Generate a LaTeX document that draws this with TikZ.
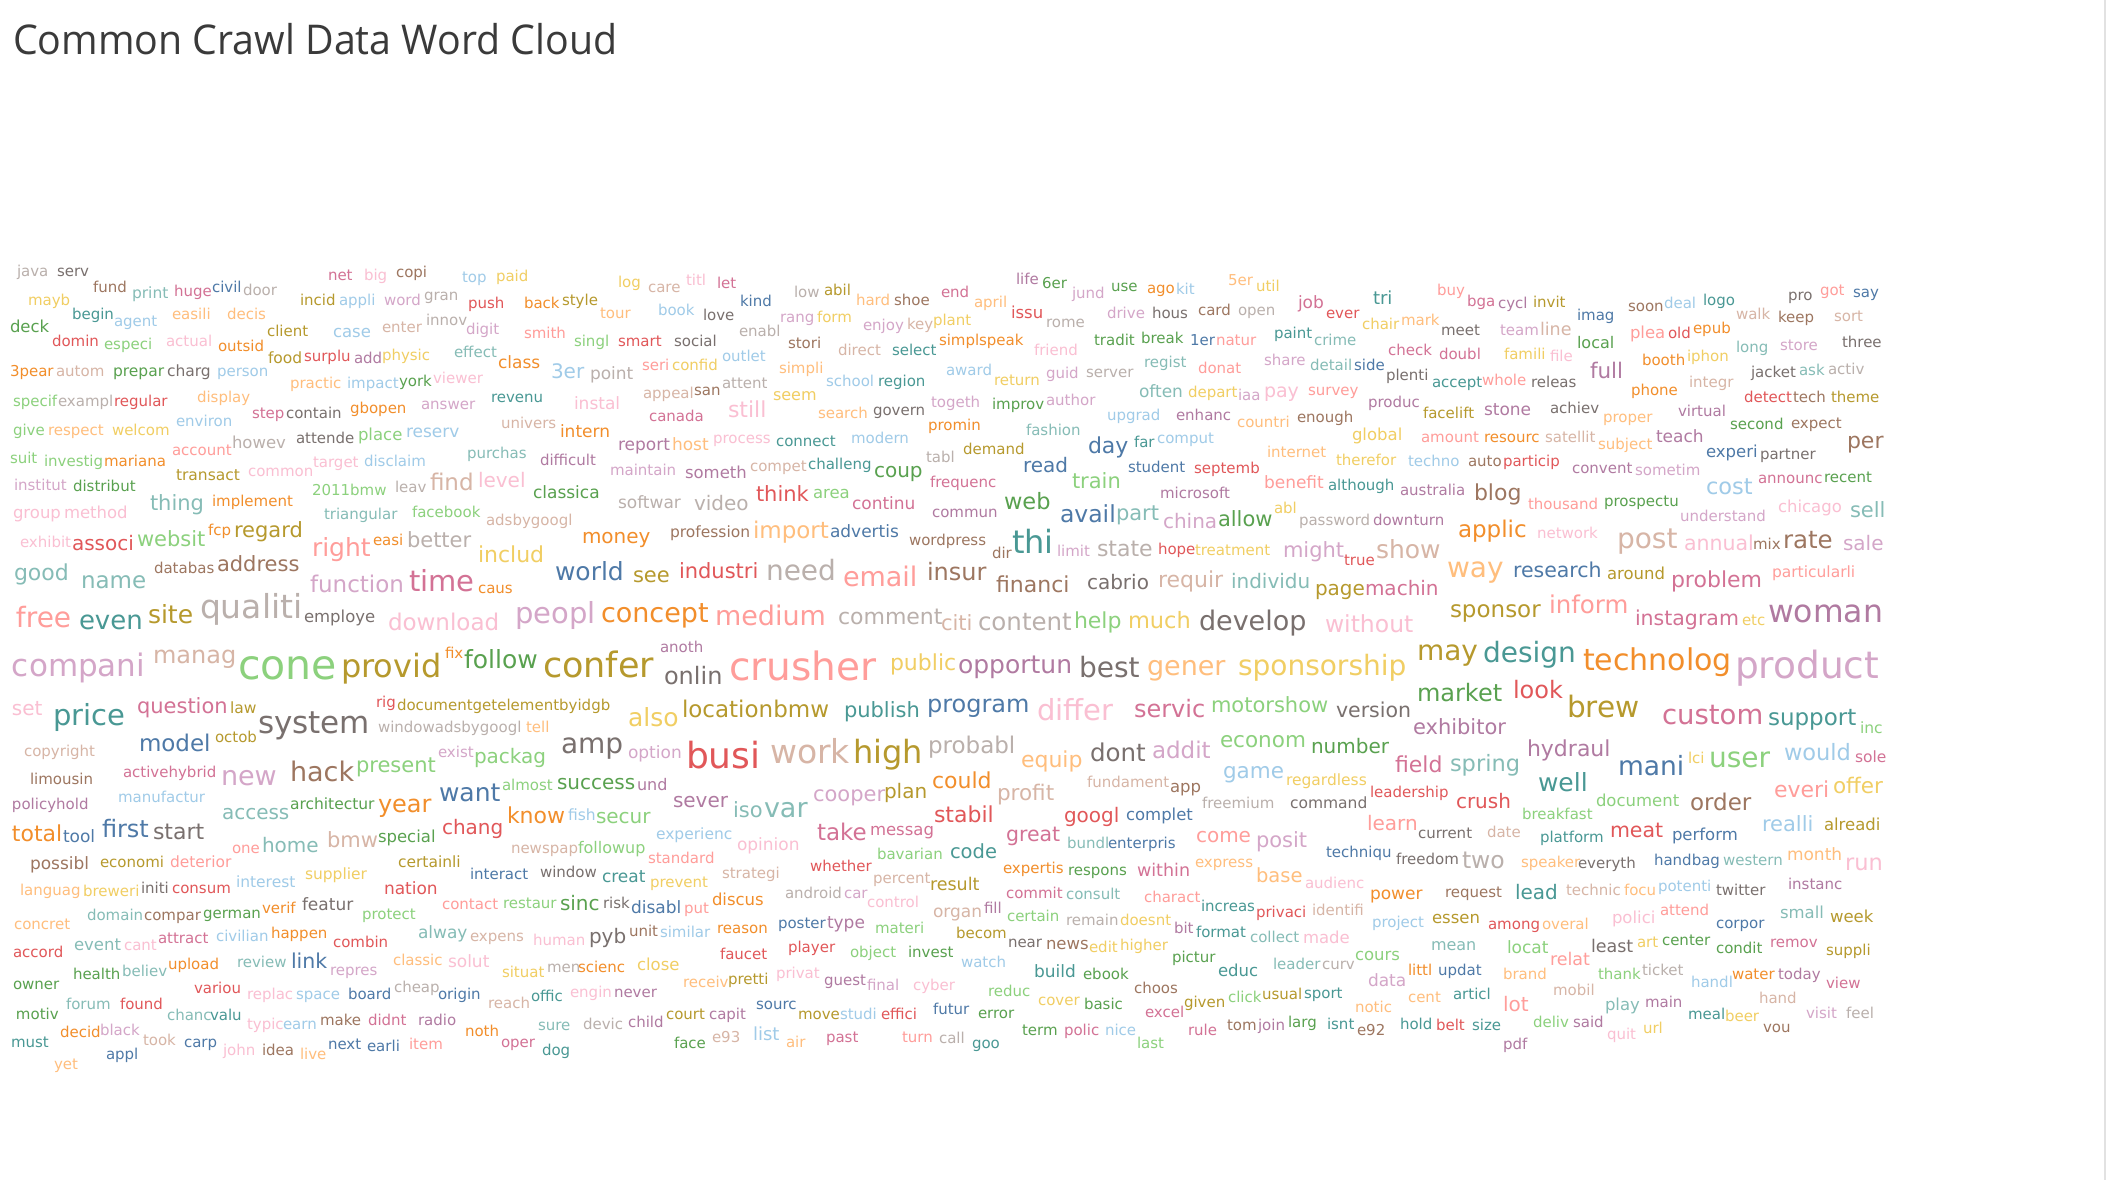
\documentclass[tikz,border=0pt]{standalone}
\usepackage{fontspec}
\usepackage{graphicx}
\setmainfont{DejaVu Sans}
\newfontfamily\titlefont{Open Sans}
\definecolor{cB}{HTML}{4E79A7}\definecolor{cBl}{HTML}{A0CBE8}
\definecolor{cO}{HTML}{F28E2B}\definecolor{cOl}{HTML}{FFBE7D}
\definecolor{cG}{HTML}{59A14F}\definecolor{cGl}{HTML}{8CD17D}
\definecolor{cY}{HTML}{B6992D}\definecolor{cYl}{HTML}{F1CE63}
\definecolor{cT}{HTML}{499894}\definecolor{cTl}{HTML}{86BCB6}
\definecolor{cR}{HTML}{E15759}\definecolor{cRl}{HTML}{FF9D9A}
\definecolor{cK}{HTML}{79706E}\definecolor{cKl}{HTML}{BAB0AC}
\definecolor{cP}{HTML}{D37295}\definecolor{cPl}{HTML}{FABFD2}
\definecolor{cV}{HTML}{B07AA1}\definecolor{cVl}{HTML}{D4A6C8}
\definecolor{cN}{HTML}{9D7660}\definecolor{cNl}{HTML}{D7B5A6}
\definecolor{titlegray}{HTML}{3A3A3A}
\definecolor{edgegray}{HTML}{E2E2E2}
\newcounter{wcn}
\newcommand{\wcw}[5]{\stepcounter{wcn}\node[wc,text=c#4,font=\fontsize{#3}{#3}\selectfont] (w\arabic{wcn}) at (#1,#2) {#5};}
\tikzset{wc/.style={anchor=base west,inner sep=0pt,outer sep=0pt}}
\begin{document}
\begin{tikzpicture}[x=1pt,y=-1pt]
\useasboundingbox[fill=white] (0,0) rectangle (2118,1180);
\draw[edgegray,line width=2pt] (2105,0) coordinate (e1) -- (2105,1180) coordinate (e2);
\node[anchor=base west,inner sep=0pt,text=titlegray] (title) at (13,55) {\resizebox{604pt}{\height}{\titlefont\fontsize{41}{41}\selectfont Common Crawl Data Word Cloud}};
% ---- zoom 1
\wcw{17}{276}{15}{Kl}{java}
\wcw{57}{276}{15}{K}{serv}
\wcw{93}{292}{15}{N}{fund}
\wcw{132}{298}{15.5}{Tl}{print}
\wcw{174}{296}{15}{P}{huge}
\wcw{212}{292}{15}{B}{civil}
\wcw{243}{295}{15}{Kl}{door}
\wcw{328}{280}{15}{P}{net}
\wcw{364}{280}{15}{Pl}{big}
\wcw{396}{277}{15}{N}{copi}
\wcw{462}{282}{15}{Bl}{top}
\wcw{496}{281}{15}{Yl}{paid}
\wcw{28}{305}{15}{Yl}{mayb}
\wcw{72}{319}{15}{T}{begin}
\wcw{114}{326}{15}{Bl}{agent}
\wcw{172}{319}{15}{Ol}{easili}
\wcw{227}{319}{15}{Ol}{decis}
\wcw{300}{305}{15}{Y}{incid}
\wcw{339}{305}{15}{Bl}{appli}
\wcw{384}{305}{15}{Vl}{word}
\wcw{424}{300}{15}{Kl}{gran}
\wcw{468}{308}{15}{R}{push}
\wcw{10}{332}{16.5}{G}{deck}
\wcw{52}{346}{15}{R}{domin}
\wcw{104}{349}{15}{Gl}{especi}
\wcw{166}{346}{15}{Pl}{actual}
\wcw{218}{351}{15}{O}{outsid}
\wcw{267}{336}{15}{Y}{client}
\wcw{333}{337}{16.5}{Bl}{case}
\wcw{382}{332}{15}{Nl}{enter}
\wcw{426}{325}{15}{Kl}{innov}
\wcw{466}{334}{15}{Vl}{digit}
\wcw{10}{376}{15}{O}{3pear}
\wcw{56}{376}{15}{Nl}{autom}
\wcw{113}{376}{15.5}{G}{prepar}
\wcw{167}{376}{15.5}{K}{charg}
\wcw{217}{376}{15}{Bl}{person}
\wcw{268}{363}{15.5}{Y}{food}
\wcw{304}{361}{15}{R}{surplu}
\wcw{354}{363}{15}{V}{add}
\wcw{382}{360}{15}{Yl}{physic}
\wcw{454}{357}{15}{Tl}{effect}
\wcw{290}{388}{15}{Ol}{practic}
\wcw{347}{388}{15}{Bl}{impact}
\wcw{399}{386}{15}{G}{york}
\wcw{433}{383}{15}{Pl}{viewer}
\wcw{13}{406}{15}{Gl}{specif}
\wcw{58}{406}{15}{Kl}{exampl}
\wcw{114}{406}{15}{R}{regular}
\wcw{197}{402}{15}{Ol}{display}
\wcw{252}{418}{15}{P}{step}
\wcw{286}{418}{15}{K}{contain}
\wcw{350}{413}{15}{O}{gbopen}
\wcw{421}{409}{15}{Vl}{answer}
\wcw{176}{426}{15}{Bl}{environ}
\wcw{13}{435}{15}{Gl}{give}
\wcw{48}{435}{15}{Ol}{respect}
\wcw{112}{435}{15}{Yl}{welcom}
\wcw{172}{455}{15}{Rl}{account}
\wcw{232}{448}{16.5}{Kl}{howev}
\wcw{296}{443}{15}{K}{attende}
\wcw{358}{440}{16.5}{Gl}{place}
\wcw{406}{437}{17}{Bl}{reserv}
\wcw{467}{458}{15}{Tl}{purchas}
\wcw{10}{463}{15}{Gl}{suit}
\wcw{44}{466}{15}{Gl}{investig}
\wcw{104}{466}{15}{O}{mariana}
\wcw{176}{480}{15.5}{Y}{transact}
\wcw{248}{476}{15}{Pl}{common}
\wcw{313}{467}{15}{Pl}{target}
\wcw{364}{466}{15}{Bl}{disclaim}
\wcw{14}{490}{15}{Vl}{institut}
\wcw{73}{491}{15}{G}{distribut}
\wcw{312}{495}{15}{Gl}{2011bmw}
\wcw{395}{492}{15}{Kl}{leav}
\wcw{430}{490}{23}{Nl}{find}
\wcw{478}{487}{20}{Pl}{level}
\wcw{150}{510}{21}{Tl}{thing}
\wcw{212}{506}{15}{O}{implement}
\wcw{324}{519}{15}{Tl}{triangular}
\wcw{412}{517}{15}{Gl}{facebook}
\wcw{13}{518}{16.5}{Pl}{group}
\wcw{64}{518}{16.5}{Pl}{method}
\wcw{234}{537}{21}{Y}{regard}
\wcw{208}{535}{15}{O}{fcp}
\wcw{137}{546}{21}{Gl}{websit}
\wcw{20}{547}{15}{Pl}{exhibit}
\wcw{72}{550}{20}{R}{associ}
\wcw{373}{545}{15}{O}{easi}
\wcw{407}{547}{21}{Kl}{better}
\wcw{312}{556}{25}{Rl}{right}
% ---- zoom 5
\wcw{14}{580}{22}{Tl}{good}
\wcw{81}{588}{23}{Tl}{name}
\wcw{154}{573}{15}{N}{databas}
\wcw{217}{571}{21}{N}{address}
\wcw{310}{592}{23}{Vl}{function}
\wcw{409}{591}{29}{P}{time}
\wcw{478}{593}{15}{O}{caus}
\wcw{16}{627}{28}{Rl}{free}
\wcw{79}{629}{26}{T}{even}
\wcw{148}{623}{25}{Y}{site}
\wcw{200}{618}{33}{Kl}{qualiti}
\wcw{304}{622}{16.5}{K}{employe}
\wcw{388}{630}{23}{Pl}{download}
\wcw{12}{676}{31}{Vl}{compani}
\wcw{153}{663}{24}{Nl}{manag}
\wcw{238}{679}{41}{Gl}{cone}
\wcw{341}{677}{32}{Y}{provid}
\wcw{445}{658}{15}{O}{fix}
\wcw{464}{668}{25}{G}{follow}
\wcw{12}{715}{20}{Pl}{set}
\wcw{53}{725}{29}{T}{price}
\wcw{137}{713}{21}{P}{question}
\wcw{230}{713}{15.5}{Y}{law}
\wcw{258}{733}{31}{K}{system}
\wcw{376}{707}{15}{R}{rig}
\wcw{397}{710}{15}{Y}{documentgetelementbyidgb}
\wcw{378}{732}{15}{Kl}{windowadsbygoogl}
\wcw{526}{732}{15}{Ol}{tell}
\wcw{24}{756}{15}{Nl}{copyright}
\wcw{139}{751}{23}{B}{model}
\wcw{215}{742}{15}{Y}{octob}
\wcw{30}{784}{15}{N}{limousin}
\wcw{123}{777}{15}{P}{activehybrid}
\wcw{221}{785}{27}{Vl}{new}
\wcw{290}{781}{27}{N}{hack}
\wcw{356}{772}{21}{Gl}{present}
\wcw{438}{757}{15}{Vl}{exist}
\wcw{474}{763}{20}{Gl}{packag}
\wcw{12}{809}{15}{V}{policyhold}
\wcw{118}{802}{15}{Bl}{manufactur}
\wcw{290}{809}{15.5}{G}{architectur}
\wcw{378}{812}{24}{O}{year}
\wcw{222}{819}{20}{Tl}{access}
\wcw{439}{801}{25}{B}{want}
% ---- zoom 9
\wcw{12}{841}{22}{O}{total}
\wcw{63}{842}{17}{B}{tool}
\wcw{102}{837}{24}{B}{first}
\wcw{153}{839}{22}{K}{start}
\wcw{232}{853}{15}{Rl}{one}
\wcw{262}{852}{20}{Tl}{home}
\wcw{327}{847}{21}{Nl}{bmw}
\wcw{378}{842}{16.5}{G}{special}
\wcw{442}{834}{20}{R}{chang}
\wcw{30}{869}{17}{N}{possibl}
\wcw{100}{867}{15}{Y}{economi}
\wcw{170}{867}{15.5}{Rl}{deterior}
\wcw{236}{887}{15.5}{Bl}{interest}
\wcw{305}{879}{15.5}{Yl}{supplier}
\wcw{398}{867}{15.5}{Y}{certainli}
\wcw{20}{895}{15}{Ol}{languag}
\wcw{83}{896}{15}{Yl}{breweri}
\wcw{141}{893}{15}{K}{initi}
\wcw{172}{893}{15}{R}{consum}
\wcw{384}{894}{17}{R}{nation}
\wcw{87}{920}{15}{Tl}{domain}
\wcw{144}{920}{15}{N}{compar}
\wcw{203}{918}{15}{G}{german}
\wcw{262}{913}{15}{O}{verif}
\wcw{302}{910}{17}{K}{featur}
\wcw{362}{919}{15}{Gl}{protect}
\wcw{442}{909}{15}{Rl}{contact}
\wcw{14}{929}{15}{Ol}{concret}
\wcw{13}{957}{15}{R}{accord}
\wcw{74}{950}{16.5}{Tl}{event}
\wcw{124}{950}{15}{Pl}{cant}
\wcw{158}{943}{15}{P}{attract}
\wcw{216}{941}{15}{Bl}{civilian}
\wcw{271}{938}{15}{O}{happen}
\wcw{333}{947}{15}{R}{combin}
\wcw{418}{938}{17}{Tl}{alway}
\wcw{470}{941}{15}{Nl}{expens}
\wcw{73}{979}{15}{G}{health}
\wcw{122}{976}{15}{Tl}{believ}
\wcw{168}{969}{15}{O}{upload}
\wcw{237}{967}{15}{Tl}{review}
\wcw{291}{968}{20.5}{B}{link}
\wcw{330}{975}{15}{Vl}{repres}
\wcw{393}{965}{15}{Ol}{classic}
\wcw{448}{967}{17}{Pl}{solut}
\wcw{13}{989}{15}{G}{owner}
\wcw{194}{993}{15}{R}{variou}
\wcw{247}{999}{15}{Pl}{replac}
\wcw{296}{999}{15}{Bl}{space}
\wcw{348}{999}{15}{B}{board}
\wcw{394}{992}{15}{Kl}{cheap}
\wcw{438}{999}{15}{B}{origin}
\wcw{66}{1009}{15}{Tl}{forum}
\wcw{120}{1009}{15}{R}{found}
\wcw{16}{1019}{15}{G}{motiv}
\wcw{167}{1020}{15}{Tl}{chanc}
\wcw{210}{1020}{15}{T}{valu}
\wcw{247}{1029}{15}{Pl}{typic}
\wcw{283}{1029}{15}{Bl}{earn}
\wcw{320}{1025}{15}{N}{make}
\wcw{368}{1025}{15}{P}{didnt}
\wcw{418}{1025}{15}{V}{radio}
\wcw{465}{1036}{15}{O}{noth}
\wcw{60}{1037}{15}{O}{decid}
\wcw{100}{1035}{15}{Vl}{black}
\wcw{11}{1047}{15}{T}{must}
\wcw{143}{1045}{15}{Nl}{took}
\wcw{184}{1047}{15}{B}{carp}
\wcw{223}{1055}{15}{Pl}{john}
\wcw{262}{1055}{15}{N}{idea}
\wcw{300}{1059}{15}{Ol}{live}
\wcw{328}{1049}{15}{B}{next}
\wcw{367}{1051}{15}{B}{earli}
\wcw{409}{1049}{15}{Rl}{item}
\wcw{106}{1059}{15}{B}{appl}
\wcw{54}{1069}{15}{Ol}{yet}
% ---- zoom 2
\wcw{618}{287}{15}{Yl}{log}
\wcw{648}{292}{15}{Nl}{care}
\wcw{686}{285}{15}{Pl}{titl}
\wcw{717}{288}{15}{P}{let}
\wcw{740}{306}{15}{B}{kind}
\wcw{794}{297}{15}{Kl}{low}
\wcw{824}{295}{15}{Y}{abil}
\wcw{856}{305}{15}{Ol}{hard}
\wcw{894}{305}{15}{N}{shoe}
\wcw{524}{308}{15}{O}{back}
\wcw{562}{305}{15}{Y}{style}
\wcw{600}{318}{15}{Ol}{tour}
\wcw{658}{315}{15}{Bl}{book}
\wcw{703}{320}{15}{K}{love}
\wcw{780}{322}{15}{Vl}{rang}
\wcw{817}{322}{15}{Yl}{form}
\wcw{863}{330}{15}{Vl}{enjoy}
\wcw{907}{329}{15}{Nl}{key}
\wcw{933}{325}{15}{Yl}{plant}
\wcw{524}{338}{15}{Rl}{smith}
\wcw{574}{346}{15}{Gl}{singl}
\wcw{618}{346}{15}{R}{smart}
\wcw{674}{346}{15}{K}{social}
\wcw{739}{336}{15}{Kl}{enabl}
\wcw{788}{348}{15}{N}{stori}
\wcw{838}{355}{15}{Nl}{direct}
\wcw{892}{355}{15}{T}{select}
\wcw{939}{345}{15}{O}{simpl}
\wcw{498}{368}{17}{O}{class}
\wcw{551}{378}{20}{Bl}{3er}
\wcw{590}{379}{17}{Kl}{point}
\wcw{642}{370}{15}{Rl}{seri}
\wcw{672}{370}{15}{Yl}{confid}
\wcw{722}{361}{15}{Bl}{outlet}
\wcw{779}{373}{15}{Ol}{simpli}
\wcw{826}{386}{15}{Bl}{school}
\wcw{878}{386}{15}{T}{region}
\wcw{491}{402}{15}{T}{revenu}
\wcw{574}{409}{17}{Pl}{instal}
\wcw{643}{398}{15}{Nl}{appeal}
\wcw{694}{395}{15}{N}{san}
\wcw{722}{388}{15}{Kl}{attent}
\wcw{773}{400}{16}{Yl}{seem}
\wcw{728}{417}{22}{Pl}{still}
\wcw{649}{421}{15}{P}{canada}
\wcw{818}{418}{15}{Ol}{search}
\wcw{873}{415}{15}{K}{govern}
\wcw{501}{428}{15}{Nl}{univers}
\wcw{560}{437}{17}{O}{intern}
\wcw{618}{450}{17}{V}{report}
\wcw{672}{450}{17}{Ol}{host}
\wcw{713}{443}{15}{Pl}{process}
\wcw{776}{446}{15}{T}{connect}
\wcw{851}{443}{15}{Bl}{modern}
\wcw{926}{462}{15}{Kl}{tabl}
\wcw{540}{465}{15}{V}{difficult}
\wcw{610}{475}{15}{Vl}{maintain}
\wcw{685}{478}{16.5}{V}{someth}
\wcw{750}{471}{15}{Nl}{compet}
\wcw{808}{469}{15}{T}{challeng}
\wcw{874}{477}{20}{G}{coup}
\wcw{930}{487}{15}{P}{frequenc}
\wcw{533}{498}{17}{G}{classica}
\wcw{618}{508}{17}{Kl}{softwar}
\wcw{694}{510}{20}{Kl}{video}
\wcw{756}{501}{21}{R}{think}
\wcw{813}{498}{16.5}{Gl}{area}
\wcw{852}{509}{17}{P}{continu}
\wcw{932}{517}{15}{V}{commun}
\wcw{486}{525}{15}{Nl}{adsbygoogl}
\wcw{582}{543}{20}{O}{money}
\wcw{670}{537}{15.5}{N}{profession}
\wcw{753}{538}{23}{Ol}{import}
\wcw{830}{537}{17}{B}{advertis}
\wcw{909}{545}{15}{N}{wordpress}
% ---- zoom 6
\wcw{478}{562}{22}{Yl}{includ}
\wcw{555}{580}{25}{B}{world}
\wcw{633}{582}{21}{Y}{see}
\wcw{679}{578}{21}{R}{industri}
\wcw{766}{580}{28}{Kl}{need}
\wcw{843}{586}{27}{Rl}{email}
\wcw{927}{580}{24}{N}{insur}
\wcw{515}{623}{29}{Vl}{peopl}
\wcw{601}{622}{27}{O}{concept}
\wcw{715}{625}{27}{Rl}{medium}
\wcw{838}{624}{22}{Kl}{comment}
\wcw{660}{652}{15}{V}{anoth}
\wcw{543}{677}{35}{Y}{confer}
\wcw{664}{684}{24}{K}{onlin}
\wcw{729}{680}{39}{Rl}{crusher}
\wcw{890}{670}{22}{Yl}{public}
\wcw{628}{726}{25}{Yl}{also}
\wcw{682}{717}{23}{Y}{locationbmw}
\wcw{844}{717}{21}{T}{publish}
\wcw{927}{712}{24}{B}{program}
\wcw{561}{753}{28}{K}{amp}
\wcw{628}{758}{17}{Vl}{option}
\wcw{686}{768}{36}{R}{busi}
\wcw{770}{763}{33}{Nl}{work}
\wcw{853}{763}{32}{Y}{high}
\wcw{928}{753}{23}{Kl}{probabl}
\wcw{502}{790}{15}{Gl}{almost}
\wcw{557}{789}{20}{G}{success}
\wcw{637}{790}{16}{V}{und}
\wcw{813}{801}{21}{Vl}{cooper}
\wcw{884}{798}{20}{Y}{plan}
\wcw{932}{788}{22}{O}{could}
\wcw{673}{807}{20}{V}{sever}
\wcw{733}{817}{21}{Tl}{iso}
\wcw{764}{817}{27}{Tl}{var}
% ---- zoom 10
\wcw{507}{823}{22}{O}{know}
\wcw{568}{820}{15.5}{Bl}{fish}
\wcw{596}{823}{20}{Gl}{secur}
\wcw{817}{840}{23}{P}{take}
\wcw{870}{835}{16.5}{P}{messag}
\wcw{934}{822}{22}{R}{stabil}
\wcw{656}{839}{15.5}{Bl}{experienc}
\wcw{511}{853}{15}{Nl}{newspap}
\wcw{578}{853}{16}{Gl}{followup}
\wcw{737}{850}{17}{Pl}{opinion}
\wcw{648}{863}{15}{Rl}{standard}
\wcw{877}{859}{15}{Gl}{bavarian}
\wcw{470}{879}{15}{B}{interact}
\wcw{540}{877}{15}{K}{window}
\wcw{602}{882}{17}{T}{creat}
\wcw{650}{887}{15}{Yl}{prevent}
\wcw{722}{878}{15}{Nl}{strategi}
\wcw{810}{871}{15}{R}{whether}
\wcw{873}{883}{15}{Nl}{percent}
\wcw{503}{908}{15}{Gl}{restaur}
\wcw{560}{910}{20}{G}{sinc}
\wcw{603}{908}{15}{K}{risk}
\wcw{631}{913}{17}{B}{disabl}
\wcw{684}{913}{15}{Rl}{put}
\wcw{712}{905}{16.5}{O}{discus}
\wcw{785}{898}{15}{Kl}{android}
\wcw{844}{898}{15}{Vl}{car}
\wcw{867}{907}{15}{Pl}{control}
\wcw{533}{945}{15}{Pl}{human}
\wcw{589}{943}{20}{K}{pyb}
\wcw{629}{936}{15}{N}{unit}
\wcw{660}{937}{15}{Bl}{similar}
\wcw{717}{933}{15}{O}{reason}
\wcw{778}{928}{15}{B}{poster}
\wcw{827}{928}{17}{V}{type}
\wcw{875}{933}{15}{Gl}{materi}
\wcw{720}{959}{15}{R}{faucet}
\wcw{788}{952}{15}{R}{player}
\wcw{850}{957}{15}{Gl}{object}
\wcw{908}{957}{15}{G}{invest}
\wcw{502}{977}{15}{Yl}{situat}
\wcw{547}{972}{15}{Kl}{men}
\wcw{578}{972}{15}{O}{scienc}
\wcw{637}{970}{16.5}{Yl}{close}
\wcw{683}{987}{15}{Ol}{receiv}
\wcw{728}{984}{15}{Y}{pretti}
\wcw{776}{978}{15}{Pl}{privat}
\wcw{824}{985}{15}{V}{guest}
\wcw{867}{990}{15}{Vl}{final}
\wcw{913}{990}{15}{Pl}{cyber}
\wcw{531}{1001}{15}{T}{offic}
\wcw{570}{997}{15}{Pl}{engin}
\wcw{614}{997}{15}{V}{never}
\wcw{488}{1008}{15}{Nl}{reach}
\wcw{756}{1009}{15}{B}{sourc}
\wcw{798}{1019}{15}{Y}{move}
\wcw{840}{1019}{15}{Bl}{studi}
\wcw{881}{1019}{15}{R}{effici}
\wcw{933}{1014}{15}{B}{futur}
\wcw{538}{1030}{15}{Tl}{sure}
\wcw{583}{1029}{15}{Kl}{devic}
\wcw{628}{1027}{15}{V}{child}
\wcw{666}{1019}{15}{Y}{court}
\wcw{709}{1019}{15}{V}{capit}
\wcw{674}{1048}{15}{G}{face}
\wcw{712}{1042}{15}{Nl}{e93}
\wcw{753}{1040}{18}{Bl}{list}
\wcw{786}{1047}{15}{Ol}{air}
\wcw{826}{1042}{15}{P}{past}
\wcw{902}{1042}{15}{Rl}{turn}
\wcw{939}{1043}{15}{Kl}{call}
\wcw{501}{1047}{15}{P}{oper}
\wcw{542}{1055}{15}{T}{dog}
% ---- zoom 3
\wcw{941}{297}{15}{P}{end}
\wcw{974}{307}{15}{Ol}{april}
\wcw{1016}{284}{15}{V}{life}
\wcw{1042}{288}{15}{G}{6er}
\wcw{1072}{298}{15}{Vl}{jund}
\wcw{1111}{291}{15}{G}{use}
\wcw{1147}{293}{15}{O}{ago}
\wcw{1176}{294}{15}{Bl}{kit}
\wcw{1228}{285}{15}{Ol}{5er}
\wcw{1256}{291}{15}{Yl}{util}
\wcw{1011}{318}{16.5}{R}{issu}
\wcw{1046}{327}{15}{Kl}{rome}
\wcw{1107}{318}{15}{Vl}{drive}
\wcw{1152}{318}{15}{K}{hous}
\wcw{1198}{315}{15}{N}{card}
\wcw{1238}{315}{15}{Kl}{open}
\wcw{1298}{308}{17}{P}{job}
\wcw{1326}{318}{15}{R}{ever}
\wcw{1373}{304}{18}{T}{tri}
\wcw{1362}{329}{15}{Yl}{chair}
\wcw{1401}{325}{15}{Ol}{mark}
\wcw{979}{345}{15}{O}{speak}
\wcw{1094}{345}{15}{G}{tradit}
\wcw{1141}{343}{15}{G}{break}
\wcw{1190}{345}{15}{B}{1er}
\wcw{1216}{345}{15}{Rl}{natur}
\wcw{1274}{338}{15}{T}{paint}
\wcw{1314}{345}{15}{Tl}{crime}
\wcw{1034}{355}{15}{Pl}{friend}
\wcw{1388}{355}{15}{P}{check}
\wcw{946}{375}{15}{Bl}{award}
\wcw{994}{385}{15}{Yl}{return}
\wcw{1046}{378}{15}{Vl}{guid}
\wcw{1086}{377}{15}{Kl}{server}
\wcw{1144}{367}{15}{Tl}{regist}
\wcw{1198}{373}{15}{Rl}{donat}
\wcw{1264}{365}{15}{Vl}{share}
\wcw{1310}{370}{15}{Tl}{detail}
\wcw{1354}{370}{15}{B}{side}
\wcw{1386}{380}{15}{K}{plenti}
\wcw{931}{407}{15}{Vl}{togeth}
\wcw{992}{409}{15}{G}{improv}
\wcw{1046}{405}{15}{Vl}{author}
\wcw{1139}{397}{17}{Tl}{often}
\wcw{1188}{397}{15}{Yl}{depart}
\wcw{1238}{400}{15}{Vl}{iaa}
\wcw{1264}{397}{19}{Pl}{pay}
\wcw{1308}{395}{15}{Rl}{survey}
\wcw{1368}{407}{15}{V}{produc}
\wcw{928}{430}{15}{O}{promin}
\wcw{1107}{420}{15}{Bl}{upgrad}
\wcw{1176}{420}{15}{V}{enhanc}
\wcw{1237}{427}{15}{Ol}{countri}
\wcw{1297}{422}{15}{N}{enough}
\wcw{1026}{435}{15}{Tl}{fashion}
\wcw{963}{454}{15}{Y}{demand}
\wcw{1088}{453}{22}{B}{day}
\wcw{1134}{447}{15}{T}{far}
\wcw{1157}{443}{15}{Bl}{comput}
\wcw{1352}{440}{16.5}{Yl}{global}
\wcw{1267}{457}{15}{Ol}{internet}
\wcw{1336}{465}{15}{Yl}{therefor}
\wcw{1408}{466}{15}{Bl}{techno}
\wcw{1023}{472}{20}{B}{read}
\wcw{1128}{472}{15}{B}{student}
\wcw{1194}{473}{15}{R}{septemb}
\wcw{1072}{488}{21}{Gl}{train}
\wcw{1264}{488}{17}{Rl}{benefit}
\wcw{1328}{490}{15}{T}{although}
\wcw{1400}{495}{15}{V}{australia}
\wcw{1160}{498}{15}{V}{microsoft}
\wcw{1004}{509}{22.5}{G}{web}
\wcw{1060}{522}{23.5}{B}{avail}
\wcw{1116}{520}{21}{Tl}{part}
\wcw{1163}{528}{20}{Vl}{china}
\wcw{1218}{526}{21}{G}{allow}
\wcw{1274}{513}{15}{Yl}{abl}
\wcw{1299}{525}{15}{Kl}{password}
\wcw{1373}{525}{15}{V}{downturn}
\wcw{1012}{553}{32}{T}{thi}
\wcw{992}{558}{15}{N}{dir}
% ---- zoom 7
\wcw{1057}{556}{15}{Vl}{limit}
\wcw{1097}{556}{22}{Kl}{state}
\wcw{1158}{554}{15}{R}{hope}
\wcw{1195}{555}{15}{Yl}{treatment}
\wcw{1283}{557}{21}{Vl}{might}
\wcw{1344}{565}{15}{R}{true}
\wcw{1376}{558}{25}{Nl}{show}
\wcw{996}{592}{22}{N}{financi}
\wcw{1087}{589}{20}{K}{cabrio}
\wcw{1158}{587}{22}{Nl}{requir}
\wcw{1231}{588}{20}{Tl}{individu}
\wcw{1315}{595}{20}{Y}{page}
\wcw{1365}{595}{20}{P}{machin}
\wcw{941}{630}{21}{Nl}{citi}
\wcw{978}{630}{24.5}{Kl}{content}
\wcw{1074}{628}{22}{Gl}{help}
\wcw{1128}{628}{22.5}{Yl}{much}
\wcw{1199}{630}{27}{K}{develop}
\wcw{1325}{632}{23.5}{Pl}{without}
\wcw{958}{673}{25}{V}{opportun}
\wcw{1079}{677}{28}{K}{best}
\wcw{1147}{675}{27}{Ol}{gener}
\wcw{1238}{675}{28}{Yl}{sponsorship}
\wcw{1037}{720}{29}{Pl}{differ}
\wcw{1134}{717}{24}{P}{servic}
\wcw{1211}{712}{21}{Gl}{motorshow}
\wcw{1336}{717}{20.5}{K}{version}
\wcw{1220}{747}{21.5}{Gl}{econom}
\wcw{1311}{753}{20}{G}{number}
\wcw{1021}{767}{22}{Ol}{equip}
\wcw{1090}{761}{24.5}{K}{dont}
\wcw{1152}{758}{23}{Vl}{addit}
\wcw{1223}{778}{21.5}{Bl}{game}
\wcw{1286}{785}{15.5}{Yl}{regardless}
\wcw{1087}{787}{15}{Nl}{fundament}
\wcw{1170}{792}{16.5}{N}{app}
\wcw{997}{800}{21.5}{Nl}{profit}
\wcw{1202}{808}{15}{Kl}{freemium}
\wcw{1290}{808}{15.5}{K}{command}
\wcw{1370}{797}{15}{R}{leadership}
% ---- zoom 11
\wcw{1064}{822}{20}{R}{googl}
\wcw{1126}{820}{16.5}{B}{complet}
\wcw{1006}{841}{20.5}{P}{great}
\wcw{1067}{848}{15}{Tl}{bundl}
\wcw{1108}{848}{15}{B}{enterpris}
\wcw{1196}{842}{20}{Rl}{come}
\wcw{1256}{847}{21}{Vl}{posit}
\wcw{1367}{830}{20}{Rl}{learn}
\wcw{950}{858}{19.5}{T}{code}
\wcw{1326}{857}{15}{B}{techniqu}
\wcw{1396}{864}{15}{K}{freedom}
\wcw{1003}{873}{15}{O}{expertis}
\wcw{1068}{875}{15}{G}{respons}
\wcw{1137}{876}{17.5}{P}{within}
\wcw{1195}{867}{15}{Ol}{express}
\wcw{1256}{882}{19.5}{Ol}{base}
\wcw{1305}{888}{15}{Pl}{audienc}
\wcw{930}{890}{17.5}{Y}{result}
\wcw{1006}{898}{15}{P}{commit}
\wcw{1066}{899}{15}{Tl}{consult}
\wcw{1144}{902}{15}{Rl}{charact}
\wcw{1201}{911}{15}{T}{increas}
\wcw{1256}{917}{15}{R}{privaci}
\wcw{1312}{915}{15}{Nl}{identifi}
\wcw{1370}{899}{17}{O}{power}
\wcw{933}{917}{17}{Nl}{organ}
\wcw{984}{913}{15}{V}{fill}
\wcw{1007}{921}{15}{Gl}{certain}
\wcw{1066}{925}{15}{Kl}{remain}
\wcw{1120}{925}{15}{Yl}{doesnt}
\wcw{1174}{933}{15}{V}{bit}
\wcw{1196}{937}{15}{T}{format}
\wcw{1250}{942}{15}{Tl}{collect}
\wcw{1303}{943}{16.5}{Pl}{made}
\wcw{1372}{927}{15}{Bl}{project}
\wcw{956}{938}{15}{Y}{becom}
\wcw{1008}{947}{15}{K}{near}
\wcw{1046}{949}{16.5}{N}{news}
\wcw{1089}{952}{15}{Yl}{edit}
\wcw{1120}{950}{15}{Yl}{higher}
\wcw{961}{967}{15}{Bl}{watch}
\wcw{1172}{962}{15}{G}{pictur}
\wcw{1034}{977}{17}{T}{build}
\wcw{1083}{979}{15}{G}{ebook}
\wcw{1218}{976}{16.5}{T}{educ}
\wcw{1273}{969}{15}{Tl}{leader}
\wcw{1322}{969}{15}{Kl}{curv}
\wcw{1355}{960}{16.5}{Gl}{cours}
\wcw{1408}{975}{15}{O}{littl}
\wcw{988}{996}{15}{Gl}{reduc}
\wcw{1134}{993}{15}{N}{choos}
\wcw{1368}{986}{17}{Vl}{data}
\wcw{1038}{1005}{15}{Yl}{cover}
\wcw{1084}{1009}{15}{G}{basic}
\wcw{1184}{1007}{15}{Y}{given}
\wcw{1228}{1002}{15}{Gl}{click}
\wcw{1262}{999}{15}{Y}{usual}
\wcw{1304}{998}{15}{T}{sport}
\wcw{1355}{1012}{15}{Ol}{notic}
\wcw{1408}{1002}{15}{Ol}{cent}
\wcw{978}{1018}{15}{G}{error}
\wcw{1145}{1017}{15}{P}{excel}
\wcw{1022}{1035}{15}{G}{term}
\wcw{1064}{1035}{15}{P}{polic}
\wcw{1105}{1035}{15}{Bl}{nice}
\wcw{1188}{1035}{15}{P}{rule}
\wcw{1227}{1030}{15}{N}{tom}
\wcw{1258}{1030}{15}{V}{join}
\wcw{1288}{1027}{15}{G}{larg}
\wcw{1327}{1029}{15}{T}{isnt}
\wcw{1357}{1035}{15}{N}{e92}
\wcw{1400}{1029}{15}{T}{hold}
\wcw{972}{1048}{15}{T}{goo}
\wcw{1137}{1048}{15}{Gl}{last}
% ---- zoom 4
\wcw{1437}{295}{15}{Rl}{buy}
\wcw{1467}{306}{15}{P}{bga}
\wcw{1498}{308}{15}{V}{cycl}
\wcw{1533}{307}{15}{Y}{invit}
\wcw{1577}{320}{15}{B}{imag}
\wcw{1628}{311}{15}{N}{soon}
\wcw{1664}{308}{15}{Bl}{deal}
\wcw{1703}{305}{15}{T}{logo}
\wcw{1788}{300}{15}{K}{pro}
\wcw{1820}{295}{15}{Rl}{got}
\wcw{1853}{297}{15}{B}{say}
\wcw{1441}{335}{15}{K}{meet}
\wcw{1500}{335}{15}{Vl}{team}
\wcw{1540}{335}{17.5}{Nl}{line}
\wcw{1736}{319}{15}{Nl}{walk}
\wcw{1778}{322}{15}{N}{keep}
\wcw{1834}{321}{15}{Nl}{sort}
\wcw{1630}{338}{16.5}{Rl}{plea}
\wcw{1668}{338}{15}{R}{old}
\wcw{1693}{333}{15}{O}{epub}
\wcw{1577}{348}{16}{G}{local}
\wcw{1439}{359}{15}{P}{doubl}
\wcw{1504}{359}{15}{Yl}{famili}
\wcw{1550}{361}{15}{Pl}{file}
\wcw{1736}{352}{15}{Tl}{long}
\wcw{1780}{350}{15}{Vl}{store}
\wcw{1842}{347}{15}{K}{three}
\wcw{1642}{365}{15}{O}{booth}
\wcw{1687}{361}{15}{Yl}{iphon}
\wcw{1590}{378}{21.5}{V}{full}
\wcw{1432}{387}{15}{T}{accept}
\wcw{1482}{385}{15}{Rl}{whole}
\wcw{1531}{387}{15}{K}{releas}
\wcw{1751}{377}{15}{K}{jacket}
\wcw{1799}{375}{15}{Tl}{ask}
\wcw{1828}{374}{15}{Kl}{activ}
\wcw{1631}{395}{15}{O}{phone}
\wcw{1689}{387}{15}{Nl}{integr}
\wcw{1744}{402}{15}{R}{detect}
\wcw{1793}{402}{15}{N}{tech}
\wcw{1831}{402}{15}{Y}{theme}
\wcw{1423}{418}{15}{Y}{facelift}
\wcw{1484}{415}{17}{V}{stone}
\wcw{1550}{413}{15}{K}{achiev}
\wcw{1603}{422}{15}{Ol}{proper}
\wcw{1678}{416}{15}{V}{virtual}
\wcw{1730}{429}{15}{G}{second}
\wcw{1791}{428}{15}{N}{expect}
\wcw{1421}{442}{15}{Rl}{amount}
\wcw{1484}{442}{15}{O}{resourc}
\wcw{1545}{442}{15}{Nl}{satellit}
\wcw{1598}{449}{15}{Ol}{subject}
\wcw{1656}{442}{17}{V}{teach}
\wcw{1847}{448}{22}{N}{per}
\wcw{1706}{457}{16.5}{B}{experi}
\wcw{1760}{459}{15}{K}{partner}
\wcw{1468}{466}{15}{N}{auto}
\wcw{1503}{466}{15}{R}{particip}
\wcw{1572}{473}{15}{V}{convent}
\wcw{1635}{475}{15}{Vl}{sometim}
\wcw{1706}{494}{22.5}{Bl}{cost}
\wcw{1758}{483}{15}{P}{announc}
\wcw{1824}{482}{15}{G}{recent}
\wcw{1474}{500}{22}{N}{blog}
\wcw{1528}{509}{15}{Rl}{thousand}
\wcw{1604}{506}{15}{G}{prospectu}
\wcw{1680}{521}{15}{Vl}{understand}
\wcw{1778}{512}{16.5}{Pl}{chicago}
\wcw{1850}{517}{21}{Tl}{sell}
% ---- zoom 8
\wcw{1458}{537}{23}{O}{applic}
\wcw{1537}{538}{15}{Pl}{network}
\wcw{1617}{548}{28}{Nl}{post}
\wcw{1684}{550}{20.5}{Pl}{annual}
\wcw{1753}{549}{15}{N}{mix}
\wcw{1783}{548}{24.5}{N}{rate}
\wcw{1843}{550}{20}{Vl}{sale}
\wcw{1447}{577}{28}{Ol}{way}
\wcw{1513}{577}{20.5}{B}{research}
\wcw{1607}{579}{16.5}{Y}{around}
\wcw{1671}{587}{22}{P}{problem}
\wcw{1772}{577}{15.5}{Rl}{particularli}
\wcw{1450}{617}{23}{Y}{sponsor}
\wcw{1549}{613}{24.5}{Rl}{inform}
\wcw{1635}{625}{20.5}{P}{instagram}
\wcw{1742}{625}{15}{Yl}{etc}
\wcw{1768}{622}{31.5}{V}{woman}
\wcw{1417}{660}{28}{Y}{may}
\wcw{1483}{662}{28}{T}{design}
\wcw{1583}{670}{30}{O}{technolog}
\wcw{1735}{678}{37.5}{Vl}{product}
\wcw{1417}{701}{24}{G}{market}
\wcw{1513}{698}{24}{R}{look}
\wcw{1567}{717}{29.5}{Y}{brew}
\wcw{1662}{724}{27.5}{P}{custom}
\wcw{1768}{725}{23}{T}{support}
\wcw{1860}{733}{15.5}{Gl}{inc}
\wcw{1413}{734}{21}{V}{exhibitor}
\wcw{1527}{756}{22}{V}{hydraul}
\wcw{1395}{772}{22}{P}{field}
\wcw{1450}{771}{22.5}{Tl}{spring}
\wcw{1618}{775}{26.5}{B}{mani}
\wcw{1688}{763}{15}{Yl}{lci}
\wcw{1709}{767}{28}{Gl}{user}
\wcw{1784}{760}{22.5}{Bl}{would}
\wcw{1855}{762}{15.5}{P}{sole}
\wcw{1538}{791}{25}{T}{well}
\wcw{1456}{808}{20}{R}{crush}
\wcw{1774}{797}{22}{Rl}{everi}
\wcw{1833}{793}{21.5}{Yl}{offer}
\wcw{1596}{806}{16.5}{Gl}{document}
\wcw{1690}{810}{23}{N}{order}
\wcw{1522}{819}{15}{Gl}{breakfast}
% ---- zoom 12
\wcw{1418}{838}{15}{K}{current}
\wcw{1487}{837}{15}{Nl}{date}
\wcw{1540}{842}{15}{T}{platform}
\wcw{1610}{837}{20.5}{R}{meat}
\wcw{1672}{840}{16.5}{B}{perform}
\wcw{1762}{831}{21}{Bl}{realli}
\wcw{1824}{830}{16.5}{Y}{alreadi}
\wcw{1462}{868}{23.5}{Kl}{two}
\wcw{1521}{867}{15}{Ol}{speaker}
\wcw{1578}{868}{15}{K}{everyth}
\wcw{1654}{865}{15}{B}{handbag}
\wcw{1723}{865}{15}{Tl}{western}
\wcw{1787}{860}{17}{Ol}{month}
\wcw{1845}{870}{22.5}{Pl}{run}
\wcw{1445}{897}{15}{N}{request}
\wcw{1515}{899}{20}{T}{lead}
\wcw{1566}{895}{15}{Nl}{technic}
\wcw{1624}{895}{15}{Ol}{focu}
\wcw{1658}{891}{15}{Bl}{potenti}
\wcw{1716}{895}{15}{K}{twitter}
\wcw{1788}{889}{15}{V}{instanc}
\wcw{1432}{923}{16.5}{Y}{essen}
\wcw{1488}{929}{15}{R}{among}
\wcw{1542}{929}{15}{Ol}{overal}
\wcw{1612}{923}{16.5}{Pl}{polici}
\wcw{1660}{915}{15}{Rl}{attend}
\wcw{1716}{928}{15}{B}{corpor}
\wcw{1780}{918}{16.5}{Tl}{small}
\wcw{1830}{922}{16.5}{Y}{week}
\wcw{1431}{950}{16}{Tl}{mean}
\wcw{1507}{953}{17}{Gl}{locat}
\wcw{1591}{952}{17.5}{K}{least}
\wcw{1637}{947}{15}{Yl}{art}
\wcw{1662}{945}{15}{G}{center}
\wcw{1716}{953}{15}{G}{condit}
\wcw{1770}{947}{15}{P}{remov}
\wcw{1826}{955}{15}{Y}{suppli}
\wcw{1550}{965}{17.5}{Rl}{relat}
\wcw{1438}{975}{15}{B}{updat}
\wcw{1503}{979}{15}{Ol}{brand}
\wcw{1598}{979}{15}{Gl}{thank}
\wcw{1642}{975}{15}{Kl}{ticket}
\wcw{1691}{987}{15}{Bl}{handl}
\wcw{1732}{979}{15}{O}{water}
\wcw{1778}{979}{15}{V}{today}
\wcw{1826}{988}{15}{P}{view}
\wcw{1453}{999}{15}{T}{articl}
\wcw{1553}{995}{15}{Nl}{mobil}
\wcw{1759}{1003}{15}{Nl}{hand}
\wcw{1503}{1011}{20}{Rl}{lot}
\wcw{1605}{1010}{16.5}{Tl}{play}
\wcw{1645}{1007}{15}{V}{main}
\wcw{1688}{1019}{15}{T}{meal}
\wcw{1725}{1021}{15}{Yl}{beer}
\wcw{1806}{1018}{15}{Vl}{visit}
\wcw{1846}{1018}{15}{Kl}{feel}
\wcw{1436}{1030}{15}{R}{belt}
\wcw{1472}{1030}{15}{T}{size}
\wcw{1533}{1027}{15}{Gl}{deliv}
\wcw{1573}{1027}{15}{V}{said}
\wcw{1763}{1032}{15}{N}{vou}
\wcw{1607}{1039}{15}{Pl}{quit}
\wcw{1643}{1033}{15}{Yl}{url}
\wcw{1503}{1049}{15}{V}{pdf}
\end{tikzpicture}
\end{document}
